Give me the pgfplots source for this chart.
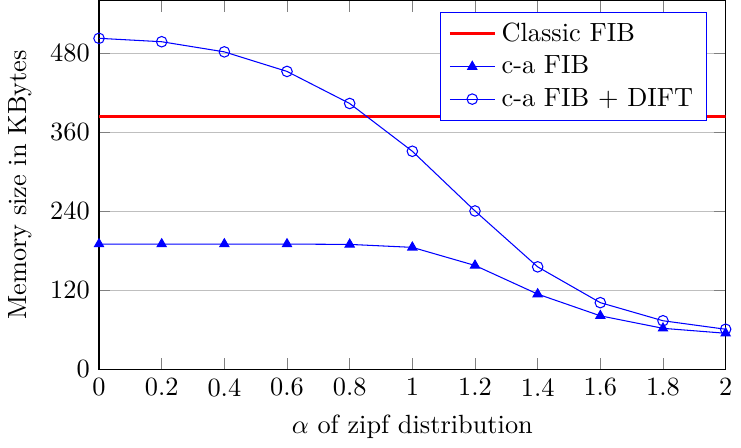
\documentclass[border=0pt]{standalone}
\usepackage{pgfplots}
\pgfplotsset{compat=1.18}
\begin{document}
\begin{tikzpicture}
\begin{axis}[
  scale only axis,
  width=238pt, height=140pt,
  xmin=0, xmax=2, ymin=0, ymax=560,
  xtick={0,0.2,0.4,0.6,0.8,1,1.2,1.4,1.6,1.8,2},
  xticklabels={0,0.2,0.4,0.6,0.8,1,1.2,1.4,1.6,1.8,2},
  ytick={0,120,240,360,480},
  ymajorgrids,
  xlabel={$\alpha$ of zipf distribution},
  ylabel={Memory size in KBytes},
  legend style={at={(0.97,0.97)}, anchor=north east, draw=blue},
  legend cell align=left,
]
\addplot[red, very thick] coordinates {(0,384) (2,384)};
\addlegendentry{Classic FIB}
\addplot[blue, mark=triangle*] coordinates {
(0,190) (0.2,190) (0.4,190) (0.6,190) (0.8,189.5) (1,185) (1.2,157.5) (1.4,114) (1.6,81) (1.8,62) (2,54.5)};
\addlegendentry{c-a FIB}
\addplot[blue, mark=o] coordinates {
(0,502.6) (0.2,497.4) (0.4,482) (0.6,452.3) (0.8,403.6) (1,331) (1.2,240.3) (1.4,155.4) (1.6,101) (1.8,73.5) (2,60.6)};
\addlegendentry{c-a FIB + DIFT}
\end{axis}
\end{tikzpicture}
\end{document}
